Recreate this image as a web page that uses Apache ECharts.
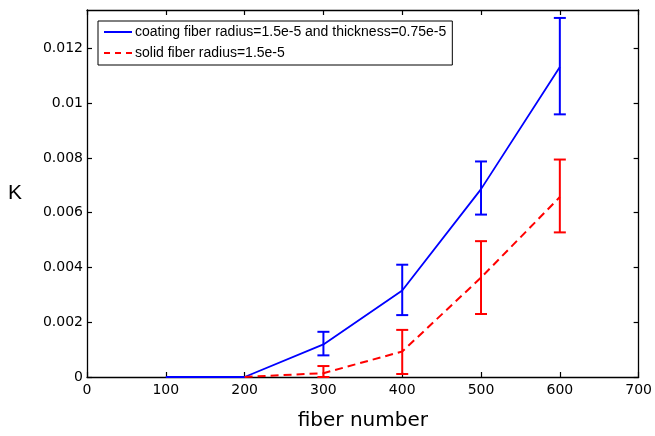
<!DOCTYPE html>
<html>
<head>
<meta charset="utf-8">
<script src="https://cdn.jsdelivr.net/npm/echarts@6/dist/echarts.min.js"></script>
<style>
  html, body { margin: 0; padding: 0; background: #fff; }
  #chart { width: 655px; height: 436px; }
</style>
</head>
<body>
<div id="chart"></div>
<script>
// Fiber count vs. K, with error bars for coated and solid fibers
const fiberNumber = [100, 200, 300, 400, 500, 600];

const coatingLabel = 'coating fiber radius=1.5e-5 and thickness=0.75e-5';
const coatingK     = [0, 0, 0.00119, 0.00316, 0.00686, 0.01132];
const coatingLow   = [null, null, 0.00079, 0.00226, 0.00593, 0.00959];
const coatingHigh  = [null, null, 0.00165, 0.00410, 0.00787, 0.01311];

const solidLabel = 'solid fiber radius=1.5e-5';
const solidX     = [200, 300, 400, 500, 600];
const solidK     = [0, 0.00014, 0.00093, 0.00363, 0.00657];
const solidLow   = [null, 0.00000, 0.00011, 0.00230, 0.00528];
const solidHigh  = [null, 0.00040, 0.00172, 0.00496, 0.00794];

const xTicks = [0, 100, 200, 300, 400, 500, 600, 700];
const yTicks = [0, 0.002, 0.004, 0.006, 0.008, 0.01, 0.012];

const textFont = 'Liberation Sans, Arial, Helvetica, sans-serif';
const tickFont = 'DejaVu Sans, sans-serif';

function pairs(xs, ys) { return xs.map((x, i) => [x, ys[i]]); }
function errRows(xs, lo, hi) {
  const out = [];
  xs.forEach((x, i) => { if (lo[i] != null) out.push([x, lo[i], hi[i]]); });
  return out;
}
function errorBarSeries(rows, color) {
  return {
    type: 'custom',
    data: rows,
    z: 3,
    silent: true,
    renderItem: function (params, api) {
      const x = api.value(0);
      const p1 = api.coord([x, api.value(1)]);
      const p2 = api.coord([x, api.value(2)]);
      const hw = 6;
      const style = { stroke: color, lineWidth: 2, fill: null };
      return {
        type: 'group',
        children: [
          { type: 'line', shape: { x1: p1[0], y1: p1[1], x2: p2[0], y2: p2[1] }, style },
          { type: 'line', shape: { x1: p1[0] - hw, y1: p1[1], x2: p1[0] + hw, y2: p1[1] }, style },
          { type: 'line', shape: { x1: p2[0] - hw, y1: p2[1], x2: p2[0] + hw, y2: p2[1] }, style }
        ]
      };
    }
  };
}

const tickStyle = { color: '#000', width: 1.2 };
const axisCommon = {
  axisLine: { show: true, onZero: false, lineStyle: { color: '#000', width: 1.3 } },
  splitLine: { show: false }
};

const yMax = 0.0134;

const chart = echarts.init(document.getElementById('chart'));
chart.setOption({
  animation: false,
  backgroundColor: '#fff',
  grid: { left: 87, right: 16, top: 10, bottom: 52, containLabel: false },
  legend: {
    left: 98, top: 21,
    orient: 'vertical',
    backgroundColor: '#fff',
    borderColor: '#000',
    borderWidth: 1,
    padding: [4, 6, 5, 5],
    itemGap: 7,
    itemWidth: 28,
    itemHeight: 14,
    itemStyle: { opacity: 0 },
    textStyle: { fontFamily: textFont, fontSize: 14, color: '#000', padding: [0, 0, 0, -2] },
    data: [
      { name: coatingLabel },
      { name: solidLabel, lineStyle: { type: [6, 5] } }
    ]
  },
  xAxis: [
    Object.assign({}, axisCommon, {
      type: 'value', min: 0, max: 700, interval: 100,
      position: 'bottom',
      name: 'fiber number', nameLocation: 'middle', nameGap: 34,
      nameTextStyle: { fontFamily: tickFont, fontSize: 20, color: '#000' },
      axisTick: { show: true, inside: true, length: 5, customValues: xTicks, lineStyle: tickStyle },
      axisLabel: { fontFamily: tickFont, fontSize: 14, color: '#000', margin: 6,
        customValues: xTicks }
    }),
    Object.assign({}, axisCommon, {
      type: 'value', min: 0, max: 700, interval: 100,
      position: 'top',
      axisTick: { show: true, inside: true, length: 5, customValues: xTicks, lineStyle: tickStyle },
      axisLabel: { show: false }
    })
  ],
  yAxis: [
    Object.assign({}, axisCommon, {
      type: 'value', min: 0, max: yMax,
      position: 'left',
      name: 'K', nameLocation: 'middle', nameGap: 65, nameRotate: 0,
      nameTextStyle: { fontFamily: textFont, fontSize: 21, color: '#000' },
      axisLabel: { fontFamily: tickFont, fontSize: 14, color: '#000', margin: 4,
        customValues: yTicks,
        formatter: v => String(+v.toFixed(4)) },
      axisTick: { show: true, inside: true, length: 5, customValues: yTicks, lineStyle: tickStyle }
    }),
    Object.assign({}, axisCommon, {
      type: 'value', min: 0, max: yMax,
      position: 'right',
      axisLabel: { show: false },
      axisTick: { show: true, inside: true, length: 5, customValues: yTicks, lineStyle: tickStyle }
    })
  ],
  series: [
    {
      name: coatingLabel,
      type: 'line',
      data: pairs(fiberNumber, coatingK),
      symbol: 'none',
      z: 4,
      itemStyle: { color: '#0000ff' },
      lineStyle: { color: '#0000ff', width: 1.8 }
    },
    {
      name: solidLabel,
      type: 'line',
      data: pairs(solidX, solidK),
      symbol: 'none',
      z: 4,
      itemStyle: { color: '#ff0000' },
      lineStyle: { color: '#ff0000', width: 2, type: [8, 5] }
    },
    errorBarSeries(errRows(fiberNumber, coatingLow, coatingHigh), '#0000ff'),
    errorBarSeries(errRows(solidX, solidLow, solidHigh), '#ff0000')
  ]
});
</script>
</body>
</html>
